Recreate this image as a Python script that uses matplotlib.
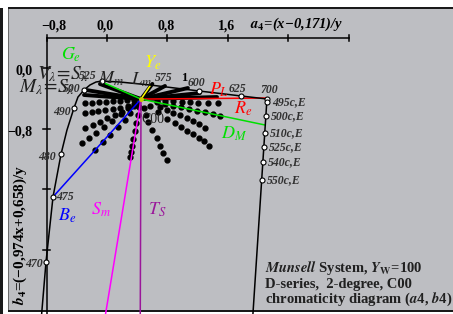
import matplotlib
matplotlib.use('Agg')
import matplotlib.pyplot as plt
from matplotlib.patches import Rectangle

plt.rcParams['mathtext.fontset'] = 'stix'
plt.rcParams['font.family'] = ['Liberation Serif', 'DejaVu Serif']

# white point C00 in (a4, b4)
white = (0.45, -0.41)

# spectral locus
locus_a = [-0.865, -0.807, -0.714, -0.608, -0.53, -0.437, -0.384, -0.304, -0.225,
           -0.146, -0.066, 0.172, 0.569, 1.217, 1.772, 2.116]
locus_b = [-3.25, -2.56, -1.70, -1.135, -0.82, -0.528, -0.383, -0.29, -0.224,
           -0.185, -0.172, -0.185, -0.224, -0.303, -0.369, -0.409]

# marked wavelengths on the locus
wl_names = ['470', '475', '480', '490', '500', '525', '600', '625', '700']
wl_a = [-0.807, -0.714, -0.608, -0.437, -0.304, -0.066, 1.217, 1.772, 2.116]
wl_b = [-2.56, -1.70, -1.135, -0.528, -0.29, -0.172, -0.303, -0.369, -0.409]
wl_lab_a = [-0.966, -0.556, -0.794, -0.595, -0.463, -0.251, 1.177, 1.72, 2.143]
wl_lab_b = [-2.586, -1.702, -1.174, -0.58, -0.277, -0.106, -0.198, -0.277, -0.29]

# purple line with complementary wavelengths
purple_a = [2.116, 1.93]
purple_b = [-0.409, -3.25]
comp_names = ['495c,E', '500c,E', '510c,E', '525c,E', '540c,E', '550c,E']
comp_a = [2.116, 2.103, 2.09, 2.077, 2.064, 2.05]
comp_b = [-0.449, -0.633, -0.858, -1.042, -1.24, -1.478]

# coloured lines from white point: end point, colour
elem_end_a = [-0.066, 0.569, 2.116, 2.09, -0.714, -0.02, 0.44]
elem_end_b = [-0.185, -0.237, -0.396, -0.752, -1.70, -3.25, -3.25]
elem_colors = ['#00e000', '#ffff00', '#ff0000', '#00e000', '#0000ff', '#ff00ff', '#9a169a']

# dense Munsell hue series (drawn as thick strokes)
dense_a = [-0.093, -0.278, -0.304, 0.767, 1.07, 1.23, 1.455, 0.60]
dense_b = [-0.211, -0.29, -0.356, -0.237, -0.264, -0.33, -0.383, -0.21]

# sparse Munsell hue series (dots)
ray_a = [
    [0.357, 0.265, 0.172, 0.079, -0.013, -0.106, -0.198, -0.291],
    [0.357, 0.278, 0.172, 0.079, -0.026, -0.119, -0.198, -0.291],
    [0.357, 0.278, 0.198, 0.106, 0.0, -0.093, -0.185, -0.291],
    [0.291, 0.185, 0.066, -0.040, -0.146, -0.238, -0.331],
    [0.397, 0.304, 0.238, 0.146, 0.040, -0.053, -0.159],
    [0.423, 0.41, 0.384, 0.370, 0.344, 0.331, 0.317, 0.304],
    [0.489, 0.516, 0.542, 0.595, 0.661, 0.701, 0.741, 0.794],
    [0.569, 0.675, 0.794, 0.899, 0.979, 1.058, 1.138, 1.217, 1.283, 1.349],
    [0.701, 0.794, 0.873, 0.966, 1.058, 1.138, 1.217, 1.296],
    [0.661, 0.767, 0.873, 0.979, 1.085, 1.190, 1.296, 1.402, 1.495],
    [0.661, 0.767, 0.873, 0.992, 1.098, 1.204, 1.336, 1.468],
]
ray_b = [
    [-0.422, -0.422, -0.435, -0.435, -0.449, -0.449, -0.462, -0.462],
    [-0.475, -0.501, -0.528, -0.541, -0.554, -0.567, -0.580, -0.594],
    [-0.501, -0.528, -0.580, -0.620, -0.660, -0.712, -0.752, -0.792],
    [-0.528, -0.607, -0.699, -0.778, -0.858, -0.924, -0.989],
    [-0.475, -0.594, -0.686, -0.778, -0.884, -0.976, -1.082],
    [-0.515, -0.620, -0.726, -0.831, -0.937, -1.029, -1.108, -1.174],
    [-0.528, -0.620, -0.712, -0.818, -0.924, -1.029, -1.121, -1.214],
    [-0.501, -0.580, -0.673, -0.726, -0.778, -0.831, -0.871, -0.924, -0.963, -1.029],
    [-0.515, -0.554, -0.594, -0.620, -0.660, -0.699, -0.739, -0.792],
    [-0.449, -0.475, -0.501, -0.515, -0.541, -0.567, -0.580, -0.607, -0.633],
    [-0.435, -0.435, -0.435, -0.449, -0.449, -0.462, -0.462, -0.462],
]

top_ticks = [-0.8, 0.0, 0.8, 1.6, 2.4, 3.2]
top_labels = ['\u22120,8', '0,0', '0,8', '1,6', '', '']
left_ticks = [0.0, -0.8, -1.6, -2.4]
left_labels = ['0,0', '\u22120,8', '', '']

fig = plt.figure(figsize=(4.53, 3.14), dpi=100)
fig.patch.set_facecolor('white')
# grey panel and frame (pixel layout of the reference)
fig.patches.append(Rectangle((8 / 453, 3 / 314), 445 / 453, 303 / 314, transform=fig.transFigure,
                             facecolor='#bdbec2', edgecolor='#555555', lw=0.6, zorder=-10))
fig.patches.append(Rectangle((8 / 453, 305 / 314), 445 / 453, 2.2 / 314, transform=fig.transFigure,
                             facecolor='#1a1a1a', edgecolor='none', zorder=-5))
fig.patches.append(Rectangle((8 / 453, 2 / 314), 445 / 453, 2.2 / 314, transform=fig.transFigure,
                             facecolor='#1a1a1a', edgecolor='none', zorder=-5))
fig.patches.append(Rectangle((0, 0), 3 / 453, 306 / 314, transform=fig.transFigure,
                             facecolor='#1a1a1a', edgecolor='none', zorder=-5))

ax = fig.add_axes([0, 0, 1, 1])
ax.set_xlim(-107 / 75.6, (453 - 107) / 75.6)
ax.set_ylim((68 - 314) / 75.8, 68 / 75.8)
ax.axis('off')

# axes drawn in data space
ax.plot([-0.8, 3.2], [0.4, 0.4], color='black', lw=1.1)
ax.plot([-0.8, -0.8], [0.4, -3.25], color='black', lw=1.1)
for t, lab in zip(top_ticks, top_labels):
    ax.plot([t, t], [0.44, 0.35], color='black', lw=1.1)
    if lab:
        dx = 0.09 if t < 0 else -0.02
        ax.text(t + dx, 0.555, lab, ha='center', va='center', fontsize=10, fontweight='bold')
for t, lab in zip(left_ticks, left_labels):
    ax.plot([-0.845, -0.755], [t, t], color='black', lw=1.1)
    if lab:
        ax.text(-0.99, t - 0.04, lab, ha='right', va='center', fontsize=10, fontweight='bold')

ax.text(1.89, 0.58, r'$\mathbfit{a}_{\mathbf{4}}$' + '=(x\u22120,171)/y', ha='left', va='center',
        fontsize=10.5, fontweight='bold', style='italic')
ax.text(-1.14, -2.2, r'$\mathbfit{b}_{\mathbf{4}}$' + '=(\u22120,974x+0,658)/y', ha='center',
        va='center', rotation=90, fontsize=11, fontweight='bold')

# Munsell dots
for ea, eb in zip(dense_a, dense_b):
    ax.plot([white[0], ea], [white[1], eb], color='black', lw=2.8, solid_capstyle='round', zorder=2)
for ra, rb in zip(ray_a, ray_b):
    ax.plot(ra, rb, 'o', color='black', ms=3.5, zorder=2)

# elementary hue lines
for ea, eb, c in zip(elem_end_a, elem_end_b, elem_colors):
    ax.plot([white[0], ea], [white[1], eb], color=c, lw=1.1, zorder=3)

# locus and purple line
ax.plot(locus_a, locus_b, color='black', lw=1.1, zorder=4)
ax.plot(purple_a, purple_b, color='black', lw=1.1, zorder=4)
ax.plot(wl_a, wl_b, 'o', ms=3.6, mfc='white', mec='black', mew=0.8, zorder=5)
ax.plot(comp_a, comp_b, 'o', ms=3.6, mfc='white', mec='black', mew=0.8, zorder=5)
ax.plot([white[0]], [white[1]], 'o', ms=2.5, color='#c8c800', zorder=5)

lab_kw = dict(fontsize=8.5, fontweight='bold', style='italic', color='#303030', zorder=6)
for n, la, lb in zip(wl_names, wl_lab_a, wl_lab_b):
    ax.text(la, lb, n, ha='center', va='center', **lab_kw)
for n, ca, cb in zip(comp_names, comp_a, comp_b):
    ax.text(ca + 0.07, cb - 0.005, n, ha='left', va='center', **lab_kw)
ax.text(0.754, -0.132, '575', ha='center', va='center', **lab_kw)
ax.text(1.019, -0.132, '1', ha='center', va='center', fontsize=9, fontweight='bold', zorder=6)
ax.text(0.608, -0.673, 'C00', ha='center', va='center', fontsize=10, color='#202020', zorder=6)

big = dict(ha='center', va='center', fontsize=13, zorder=6)
ax.text(-0.476, 0.171, r'$G_e$', color='#00e000', **big)
ax.text(0.608, 0.066, r'$Y_e$', color='#ffff00', **big)
ax.text(1.481, -0.29, r'$P_L$', color='#ff0000', **big)
ax.text(1.799, -0.541, r'$R_e$', color='#ff0000', **big)
ax.text(1.68, -0.871, r'$D_M$', color='#00e000', **big)
ax.text(-0.529, -1.953, r'$B_e$', color='#0000ff', **big)
ax.text(-0.079, -1.873, r'$S_m$', color='#ff00ff', **big)
ax.text(0.661, -1.873, r'$T_S$', color='#9a169a', **big)
ax.text(0.053, -0.145, r'$M_m$', color='#202020', **big)
ax.text(0.45, -0.158, r'$L_m$', color='#202020', **big)
ax.text(-0.595, -0.079, r'$V_\lambda\!=\!S_\lambda$', color='#202020', ha='center', va='center',
        fontsize=14, zorder=6)
ax.text(-0.794, -0.251, r'$M_\lambda\!=\!S_\lambda$', color='#202020', ha='center', va='center',
        fontsize=14, zorder=6)

info = dict(ha='left', va='baseline', fontsize=10.5, fontweight='bold', color='#202020', zorder=6)
ax.text(2.09, -2.69, r'$\mathbfit{Munsell}$ System, $\mathbfit{Y}_{\mathbf{W}}$=100', **info)
ax.text(2.09, -2.90, 'D-series,  2-degree, C00', **info)
ax.text(2.09, -3.10, r'chromaticity diagram ($\mathbfit{a}$4, $\mathbfit{b}$4)', **info)

plt.savefig('out.png', dpi=100, facecolor=fig.get_facecolor())
